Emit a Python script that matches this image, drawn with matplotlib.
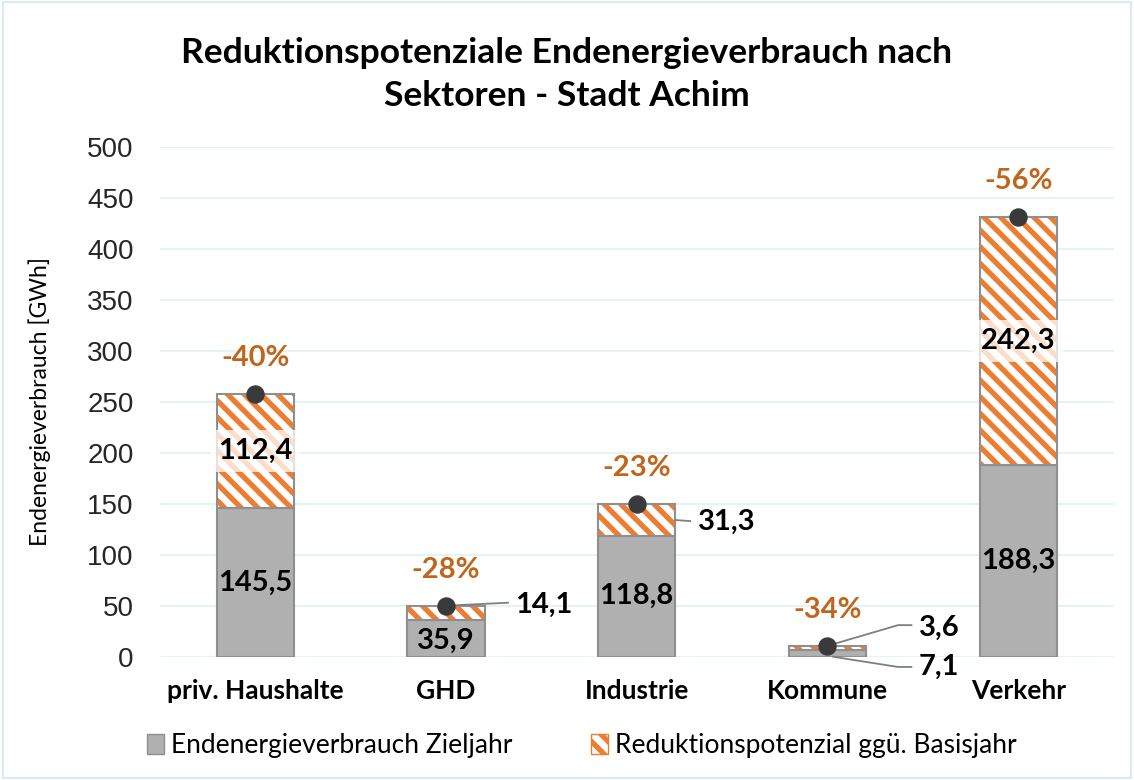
import numpy as np
import matplotlib
matplotlib.use("Agg")
import matplotlib.pyplot as plt
from matplotlib.patches import Patch, Rectangle

# Daten
sektoren = ["priv. Haushalte", "GHD", "Industrie", "Kommune", "Verkehr"]
zieljahr = [145.5, 35.9, 118.8, 7.1, 188.3]
reduktion = [112.4, 14.1, 31.3, 3.6, 242.3]
prozent = ["-40%", "-28%", "-23%", "-34%", "-56%"]
yticks = [0, 50, 100, 150, 200, 250, 300, 350, 400, 450, 500]

GRAU = "#b0b0b0"
RAND = "#8f8f8f"
ORANGE = "#ed7d31"
PROZ = "#c0651b"
SCHRIFT = "Lato"

plt.rcParams["hatch.linewidth"] = 3.8

fig = plt.figure(figsize=(11.34, 7.8), dpi=100)
ax = fig.add_axes([0.141, 0.158, 0.841, 0.654])

x = np.arange(len(sektoren))
breite = 0.405
zieljahr = np.array(zieljahr)
reduktion = np.array(reduktion)
gesamt = zieljahr + reduktion

ax.bar(x, zieljahr, breite, color=GRAU, edgecolor=RAND, linewidth=1.5, zorder=2)
ax.bar(x, reduktion, breite, bottom=zieljahr, color="white", edgecolor=ORANGE,
       hatch="\\\\", linewidth=0, zorder=2)
ax.bar(x, reduktion, breite, bottom=zieljahr, fill=False, edgecolor=RAND,
       linewidth=1.5, zorder=3)
ax.scatter(x, gesamt, s=150, color="#3a3a3a", zorder=5)

# Prozentwerte
for i, p in enumerate(prozent):
    ax.annotate(p, (x[i], gesamt[i]), xytext=(0, 26), textcoords="offset points",
                ha="center", va="center", fontsize=21, color=PROZ,
                family=SCHRIFT, fontweight="bold")

lab = dict(fontsize=21, family=SCHRIFT, fontweight="bold", color="black",
           ha="center", va="center", zorder=6)
wbox = dict(boxstyle="square,pad=0.28", fc="white", ec="none", alpha=0.75)

def zahl(v):
    return f"{v:.1f}".replace(".", ",")

# Werte in den Balken
for i in range(len(sektoren)):
    if i != 3:
        ax.text(x[i], zieljahr[i] / 2 if i != 1 else zieljahr[i] / 2 - 2,
                zahl(zieljahr[i]), **lab)
for i in [0, 4]:
    ax.text(x[i], zieljahr[i] + reduktion[i] / 2, zahl(reduktion[i]),
            bbox=wbox, **lab)

# Werte mit Hinweislinien
lk = dict(color="#7f7f7f", lw=1.3, zorder=4, clip_on=False)
links = {**lab, "ha": "left"}
ax.plot([x[1], x[1] + 0.325], [gesamt[1], 53], **lk)
ax.text(x[1] + 0.36, 51, zahl(reduktion[1]), **links)
ax.plot([x[2] + breite / 2, x[2] + 0.28], [134, 133], **lk)
ax.text(x[2] + 0.32, 132, zahl(reduktion[2]), **links)
ax.plot([x[3], x[3] + 0.37, x[3] + 0.44], [gesamt[3], 31, 31], **lk)
ax.text(x[3] + 0.48, 28, zahl(reduktion[3]), **links)
ax.plot([x[3] + 0.03, x[3] + 0.37, x[3] + 0.44], [0, -10, -10], **lk)
ax.text(x[3] + 0.48, -10, zahl(zieljahr[3]), **links)

ax.set_xlim(-0.5, len(sektoren) - 0.5)
ax.set_ylim(0, 500)
ax.set_yticks(yticks)
ax.set_yticklabels([str(t) for t in yticks], family="Liberation Sans", fontsize=20,
                   color="#262626")
ax.set_xticks(x)
ax.set_xticklabels(sektoren, family=SCHRIFT, fontweight="bold", fontsize=19)
ax.tick_params(axis="y", length=0, pad=19)
ax.tick_params(axis="x", length=0, pad=16)
ax.grid(axis="y", color="#e6f3f3", lw=1.5, zorder=0)
for s in ax.spines.values():
    s.set_visible(False)
ax.axhline(0, color="#d9e8e8", lw=1.5, zorder=1)

ax.set_ylabel("Endenergieverbrauch [GWh]", family=SCHRIFT, fontsize=16.5, labelpad=26)

fig.text(0.5, 0.9045, "Reduktionspotenziale Endenergieverbrauch nach\nSektoren - Stadt Achim",
         ha="center", va="center", family=SCHRIFT, fontweight="bold", fontsize=25.5,
         linespacing=1.45)

handles = [Patch(facecolor=GRAU, edgecolor=RAND, label="Endenergieverbrauch Zieljahr"),
           Patch(facecolor="white", edgecolor=ORANGE, hatch="\\\\",
                 label="Reduktionspotenzial ggü. Basisjahr")]
fig.legend(handles=handles, loc="center", bbox_to_anchor=(0.513, 0.044),
           ncol=2, frameon=False, prop={"family": SCHRIFT, "size": 19},
           handlelength=0.65, handleheight=0.8, handletextpad=0.25, columnspacing=3.0)

fig.add_artist(Rectangle((0.003, 0.003), 0.994, 0.994, transform=fig.transFigure,
                         fill=False, edgecolor="#dcecec", lw=1.5))

fig.savefig("out.png", dpi=100)
